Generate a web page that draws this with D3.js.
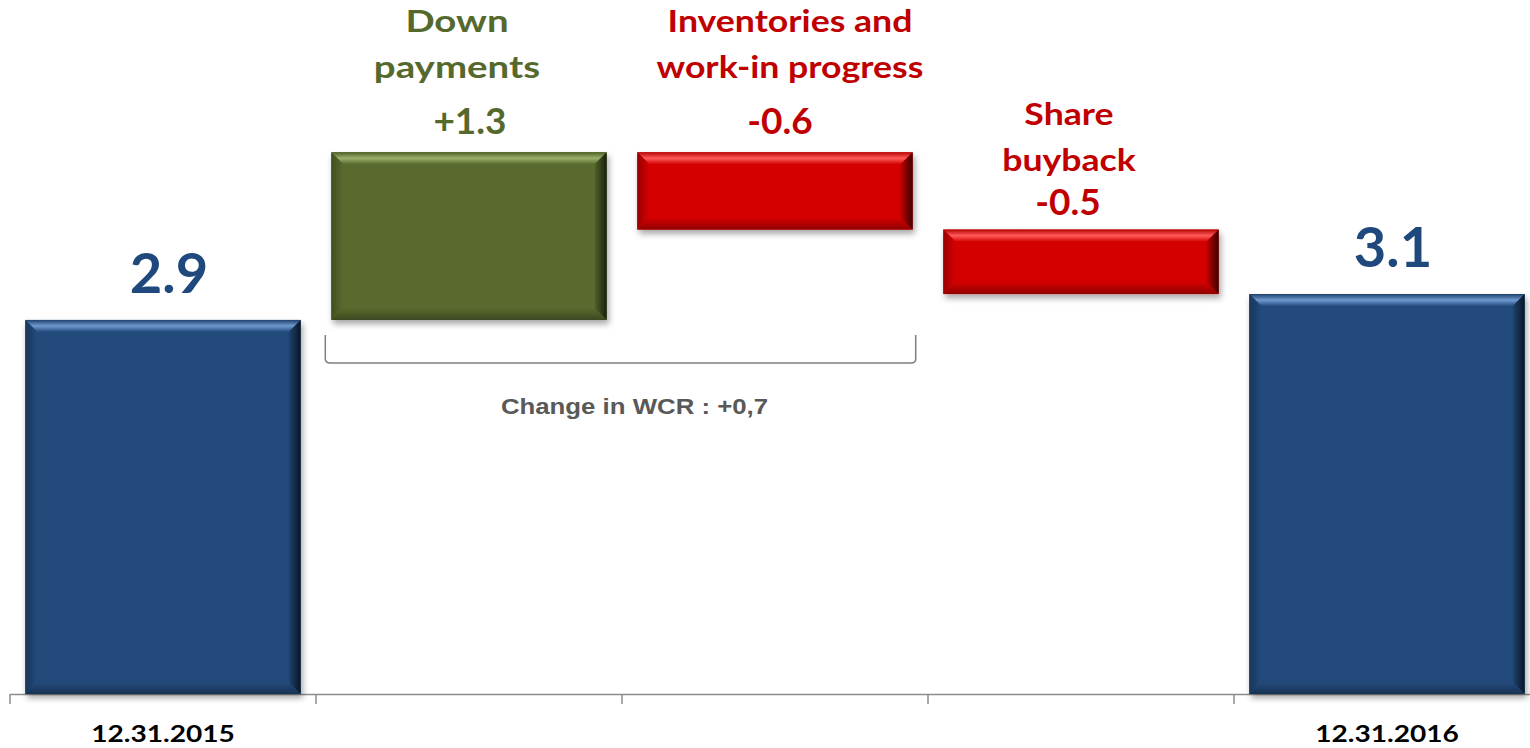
<!DOCTYPE html>
<html>
<head>
<meta charset="utf-8">
<script src="https://cdn.jsdelivr.net/npm/d3@7"></script>
<style>
  html, body { margin: 0; padding: 0; background: #ffffff; }
  svg { display: block; }
</style>
</head>
<body>
<svg id="chart" width="1530" height="748"></svg>
<script>
// ---- data ----
const categories = ["12.31.2015", "Down payments", "Inventories and work-in progress", "Share buyback", "12.31.2016"];
const axisLabels = ["12.31.2015", "", "", "", "12.31.2016"];
const labelLines = [[], ["Down", "payments"], ["Inventories and", "work-in progress"], ["Share", "buyback"], []];
const values = [2.9, 1.3, -0.6, -0.5, 3.1];
const kinds = ["total", "delta", "delta", "delta", "total"];
const valueLabels = ["2.9", "+1.3", "-0.6", "-0.5", "3.1"];
const bracketNote = "Change in WCR : +0,7";

// ---- layout ----
const svg = d3.select("#chart");
const x = d3.scaleBand().domain(categories).range([10, 1540]).paddingInner(0).paddingOuter(0);
const baseY = 694;
const y = d3.scaleLinear().domain([0, 694 / 129]).range([baseY, 0]);
const barW = x.bandwidth() * 0.9;
const barX = c => x(c) + (x.bandwidth() - barW) / 2;

// waterfall steps
let run = 0;
const bars = categories.map((c, i) => {
  let lo, hi;
  if (kinds[i] === "total") { lo = 0; hi = values[i]; run = values[i]; }
  else { const s = run; run = run + values[i]; lo = Math.min(s, run); hi = Math.max(s, run); }
  return { c, i, lo, hi, v: values[i], kind: kinds[i] };
});

const colorFor = b => b.kind === "total" ? "#234B7C" : (b.v >= 0 ? "#5A6B2E" : "#D40505");
const highlightFor = b => b.kind === "total" ? "#6F9AD0" : (b.v >= 0 ? "#9AB06A" : "#FF5A5A");
const labelColorFor = b => b.kind === "total" ? "#1F497D" : (b.v >= 0 ? "#56692D" : "#C00000");

const defs = svg.append("defs");
const f = defs.append("filter").attr("id", "shadow").attr("x", "-10%").attr("y", "-10%").attr("width", "125%").attr("height", "130%");
f.append("feDropShadow").attr("dx", 2).attr("dy", 4).attr("stdDeviation", 3).attr("flood-color", "#000").attr("flood-opacity", 0.35);

function grad(id, dir, stops) {
  const g = defs.append("linearGradient").attr("id", id)
    .attr("x1", 0).attr("y1", 0)
    .attr("x2", dir === "h" ? 1 : 0).attr("y2", dir === "v" ? 1 : 0);
  stops.forEach(s => g.append("stop").attr("offset", s[0]).attr("stop-color", s[1]));
}

bars.forEach(b => {
  const base = d3.color(colorFor(b));
  const hl = highlightFor(b);
  grad("gt" + b.i, "v", [[0, base.darker(0.4)], [0.5, hl], [1, base]]);
  grad("gb" + b.i, "v", [[0, base], [1, base.darker(1.1)]]);
  grad("gr" + b.i, "h", [[0, base.darker(0.3)], [1, base.darker(3.5)]]);
  grad("gl" + b.i, "h", [[0, base.darker(0.9)], [1, base]]);
});

// axis
const axisG = svg.append("g");
axisG.append("line").attr("x1", x.range()[0]).attr("x2", x.range()[1]).attr("y1", baseY + 0.5).attr("y2", baseY + 0.5)
  .attr("stroke", "#8C8C8C").attr("stroke-width", 1.5);
const tickPos = categories.map(c => x(c)).concat([x.range()[1]]);
axisG.selectAll("line.tick").data(tickPos).join("line").attr("class", "tick")
  .attr("x1", d => d).attr("x2", d => d).attr("y1", baseY).attr("y2", baseY + 10)
  .attr("stroke", "#8C8C8C").attr("stroke-width", 1.5);

// bars
const barG = svg.append("g").selectAll("g").data(bars).join("g").attr("filter", "url(#shadow)");
barG.each(function (b) {
  const g = d3.select(this);
  const x0 = barX(b.c), x1 = x0 + barW;
  const y0 = y(b.hi), y1 = y(b.lo);
  const bv = 12;
  g.append("rect").attr("x", x0).attr("y", y0).attr("width", barW).attr("height", y1 - y0).attr("fill", colorFor(b));
  const poly = pts => pts.map(p => p.join(",")).join(" ");
  g.append("polygon").attr("points", poly([[x0, y0], [x1, y0], [x1 - bv, y0 + bv], [x0 + bv, y0 + bv]])).attr("fill", `url(#gt${b.i})`);
  g.append("polygon").attr("points", poly([[x0, y1], [x1, y1], [x1 - bv, y1 - bv], [x0 + bv, y1 - bv]])).attr("fill", `url(#gb${b.i})`);
  g.append("polygon").attr("points", poly([[x1, y0], [x1, y1], [x1 - bv, y1 - bv], [x1 - bv, y0 + bv]])).attr("fill", `url(#gr${b.i})`);
  g.append("polygon").attr("points", poly([[x0, y0], [x0, y1], [x0 + bv, y1 - bv], [x0 + bv, y0 + bv]])).attr("fill", `url(#gl${b.i})`);
});

// value labels + category labels
const FONT = "Lato, 'Open Sans', 'Noto Sans', sans-serif";
bars.forEach(b => {
  const cx = barX(b.c) + barW / 2;
  const top = y(b.hi);
  const col = labelColorFor(b);
  if (b.kind === "total") {
    svg.append("text").attr("x", cx + 6).attr("y", top - 27)
      .attr("text-anchor", "middle").attr("font-family", FONT).attr("font-weight", 700)
      .attr("font-size", 56).attr("fill", col).text(valueLabels[b.i]);
  } else {
    const vy = top - (b.i === 3 ? 15 : 18);
    const vdx = b.i === 2 ? 5 : (b.i === 3 ? -13 : 1);
    svg.append("text").attr("x", cx + vdx).attr("y", vy)
      .attr("text-anchor", "middle").attr("font-family", FONT).attr("font-weight", 700)
      .attr("font-size", 37).attr("fill", col).text(valueLabels[b.i]);
    const lines = labelLines[b.i];
    const lastGap = b.i === 3 ? 44 : 56;
    const dx = b.i === 1 ? -12 : (b.i === 2 ? 15 : -12);
    const sx = b.i === 1 ? 1.24 : 1.15;
    lines.forEach((t, k) => {
      const ly = vy - lastGap - (lines.length - 1 - k) * 46;
      svg.append("text").attr("transform", `translate(${cx + dx},${ly}) scale(${sx},1)`)
        .attr("text-anchor", "middle").attr("font-family", FONT).attr("font-weight", 700)
        .attr("font-size", 31).attr("fill", col).text(t);
    });
  }
});

// axis category labels
categories.forEach((c, i) => {
  if (!axisLabels[i]) return;
  const cx = barX(c) + barW / 2;
  svg.append("text").attr("transform", `translate(${cx},${742}) scale(1.22,1)`)
    .attr("text-anchor", "middle").attr("font-family", FONT).attr("font-weight", 700)
    .attr("font-size", 23).attr("fill", "#000").text(axisLabels[i]);
});

// bracket
const bl = barX(categories[1]) - 6;
const br = barX(categories[2]) + barW + 3;
const bt = y(values[0]) + 15, bb = y(values[0]) + 43;
svg.append("path")
  .attr("d", `M${bl},${bt} L${bl},${bb - 4} Q${bl},${bb} ${bl + 5},${bb} L${br - 5},${bb} Q${br},${bb} ${br},${bb - 4} L${br},${bt}`)
  .attr("fill", "none").attr("stroke", "#7F7F7F").attr("stroke-width", 1.5);
svg.append("text").attr("transform", `translate(${(bl + br) / 2 + 14},${bb + 51}) scale(1.2,1)`)
  .attr("text-anchor", "middle").attr("font-family", "'Liberation Sans', Arial, sans-serif").attr("font-weight", 700)
  .attr("font-size", 21.5).attr("fill", "#595959").text(bracketNote);
</script>
</body>
</html>
